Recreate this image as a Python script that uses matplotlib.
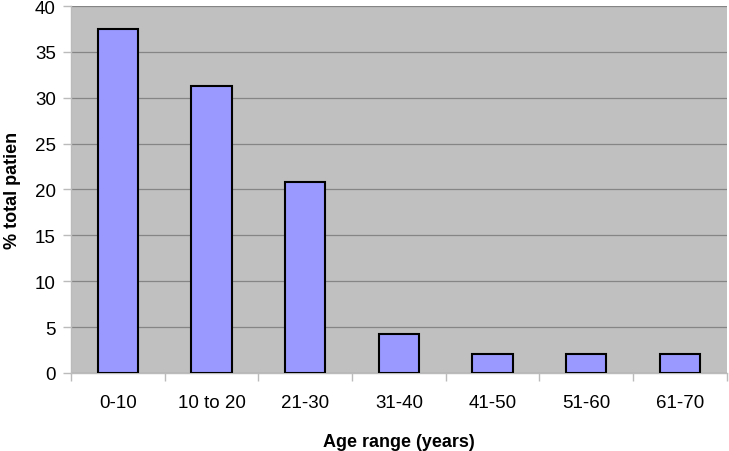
import matplotlib
matplotlib.use("Agg")
import matplotlib.pyplot as plt

categories = ["0-10", "10 to 20", "21-30", "31-40", "41-50", "51-60", "61-70"]
percent = [37.5, 31.25, 20.8, 4.2, 2.1, 2.1, 2.1]

BAR_COLOR = "#9999FF"
BG_COLOR = "#C0C0C0"

plt.rcParams["font.family"] = ["Liberation Sans", "DejaVu Sans"]

fig = plt.figure(figsize=(7.29, 4.52), dpi=100)
ax = fig.add_axes([0.0974, 0.1726, 0.8996, 0.8119])
ax.set_facecolor(BG_COLOR)

x = list(range(len(categories)))
ax.bar(x, percent, width=0.43, color=BAR_COLOR, edgecolor="black", linewidth=1.5, zorder=3)

ax.set_xlim(-0.5, len(categories) - 0.5)
ax.set_ylim(0, 40)
ax.set_yticks(range(0, 41, 5))
ax.yaxis.grid(True, color="#858585", linewidth=0.9, zorder=0)
ax.set_axisbelow(True)

# category labels centred, tick marks on category boundaries (Excel style)
ax.set_xticks(x)
ax.set_xticklabels(categories)
ax.tick_params(axis="x", which="major", length=0, pad=15, labelsize=13.5)
ax.set_xticks([i + 0.5 for i in range(-1, len(categories))], minor=True)
ax.tick_params(axis="x", which="minor", length=6, color="#BBBBBB", width=1)
ax.tick_params(axis="y", length=6, color="#BBBBBB", width=1, labelsize=13.5, pad=5)

for side in ["top", "right"]:
    ax.spines[side].set_visible(False)
for side in ["left", "bottom"]:
    ax.spines[side].set_color("#BBBBBB")
    ax.spines[side].set_linewidth(1)

ax.set_xlabel("Age range (years)", fontsize=13, fontweight="bold", labelpad=16)
ax.set_ylabel("% total patien", fontsize=13, fontweight="bold", labelpad=10)

plt.savefig("out.png", dpi=100)
plt.close()
